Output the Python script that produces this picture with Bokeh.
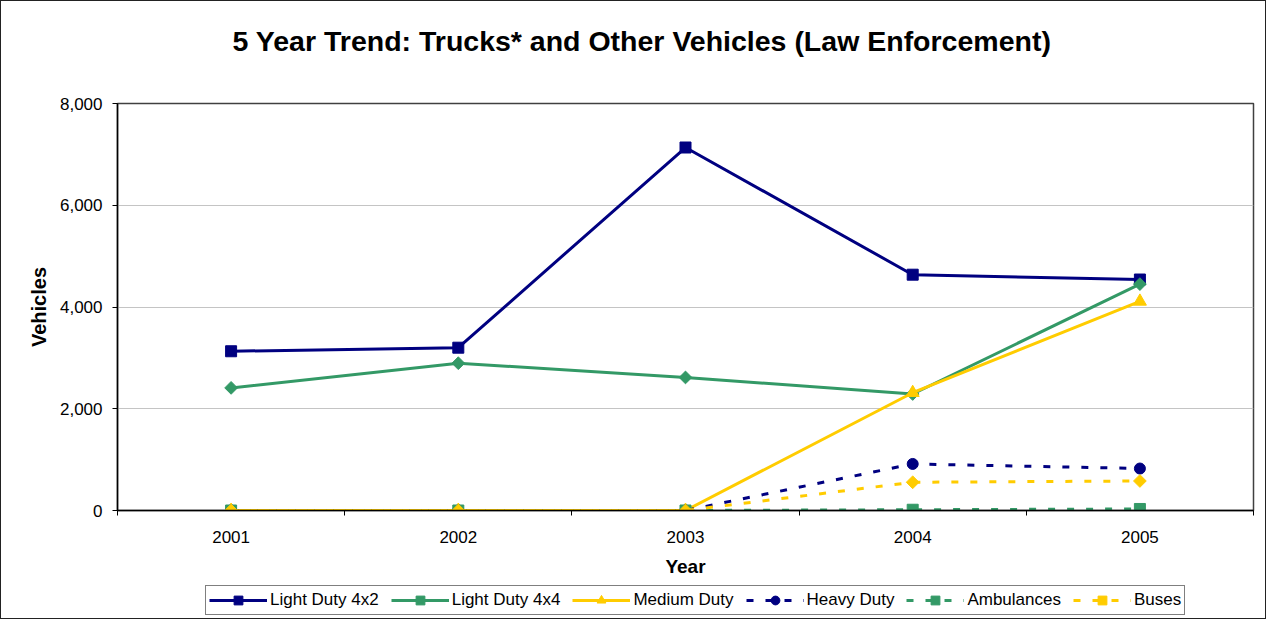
import math
from bokeh.plotting import figure
from bokeh.layouts import column
from bokeh.models import Range1d, FixedTicker, NumeralTickFormatter, Legend, LegendItem, Label
from bokeh.embed import file_html
from bokeh.resources import INLINE

years = [2001, 2002, 2003, 2004, 2005]
light_4x2 = [3130, 3200, 7135, 4635, 4540]
light_4x4 = [2410, 2895, 2615, 2290, 4450]
medium = [0, 0, 0, 2315, 4110]
heavy = [0, 0, 0, 915, 825]
ambulances = [0, 0, 0, 15, 30]
buses = [0, 0, 0, 555, 580]

TITLE = "5 Year Trend: Trucks* and Other Vehicles (Law Enforcement)"
NAVY = "#000080"
GREEN = "#339966"
YELLOW = "#FFCC00"
FONT = "Liberation Sans"
W = 1264


def blank(height):
    f = figure(width=W, height=height, output_backend="svg", toolbar_location=None,
               x_range=Range1d(0, 1), y_range=Range1d(0, 1), min_border=0)
    f.axis.visible = False
    f.grid.grid_line_color = None
    f.outline_line_color = None
    return f


# header strip with the chart title
hd = blank(74)
hd.add_layout(Label(x=0.4617, y=0.47, text=TITLE, text_align="center", text_baseline="middle",
                    text_font=FONT, text_font_size="28.5px", text_font_style="bold",
                    text_color="black"))

p = figure(width=W, height=508, output_backend="svg", toolbar_location=None,
           x_range=Range1d(2000.5, 2005.5), y_range=Range1d(0, 8000),
           min_border_left=116, min_border_right=12, min_border_top=28, min_border_bottom=73)

p.outline_line_color = "#404040"
p.outline_line_width = 1.5

p.xgrid.grid_line_color = None
p.ygrid.grid_line_color = "#c4c4c4"
p.ygrid.grid_line_width = 1

p.xaxis.ticker = FixedTicker(ticks=years, minor_ticks=[2000.5, 2001.5, 2002.5, 2003.5, 2004.5, 2005.5])
p.xaxis.major_tick_line_color = None
p.xaxis.minor_tick_in = 0
p.xaxis.minor_tick_out = 5
p.xaxis.minor_tick_line_color = "black"
p.xaxis.axis_line_color = "black"
p.xaxis.axis_line_width = 1.5
p.xaxis.major_label_text_font = FONT
p.xaxis.major_label_text_font_size = "17px"
p.xaxis.major_label_text_color = "black"
p.xaxis.major_label_standoff = 14
p.xaxis.axis_label = "Year"
p.xaxis.axis_label_text_font = FONT
p.xaxis.axis_label_text_font_size = "19px"
p.xaxis.axis_label_text_font_style = "bold"
p.xaxis.axis_label_text_color = "black"
p.xaxis.axis_label_standoff = 10

p.yaxis.ticker = FixedTicker(ticks=[0, 2000, 4000, 6000, 8000], minor_ticks=[])
p.yaxis.formatter = NumeralTickFormatter(format="0,0")
p.yaxis.major_tick_in = 0
p.yaxis.major_tick_out = 5
p.yaxis.axis_line_color = "black"
p.yaxis.axis_line_width = 1.5
p.yaxis.major_label_text_font = FONT
p.yaxis.major_label_text_font_size = "17px"
p.yaxis.major_label_text_color = "black"
p.yaxis.major_label_standoff = 10
p.yaxis.axis_label = "Vehicles"
p.yaxis.axis_label_text_font = FONT
p.yaxis.axis_label_text_font_size = "20px"
p.yaxis.axis_label_text_font_style = "bold"
p.yaxis.axis_label_text_color = "black"
p.yaxis.axis_label_standoff = 7

DIAMOND = math.pi / 4
series = [
    ("Light Duty 4x2", light_4x2, NAVY, "square", "solid", 11, 0),
    ("Light Duty 4x4", light_4x4, GREEN, "square", "solid", 9, DIAMOND),
    ("Medium Duty", medium, YELLOW, "triangle", "solid", 13, 0),
    ("Heavy Duty", heavy, NAVY, "circle", "7 12", 11, 0),
    ("Ambulances", ambulances, GREEN, "square", "7 12", 11, 0),
    ("Buses", buses, YELLOW, "square", "7 12", 9, DIAMOND),
]

# legend strip: its renderers hold the same series, outside its (blank) view
lg = blank(35)

items = []
for name, vals, color, marker, dash, size, ang in series:
    p.line(years, vals, line_color=color, line_width=3, line_dash=dash)
    p.scatter(years, vals, marker=marker, size=size, angle=ang,
              fill_color=color, line_color=color)
    kl = lg.line(years, vals, line_color=color, line_width=3, line_dash=dash)
    ks = lg.scatter(years, vals, marker=marker, size=size, angle=ang,
                    fill_color=color, line_color=color)
    items.append(LegendItem(label=name, renderers=[kl, ks]))

legend = Legend(items=items, orientation="horizontal", location=(88, 3),
                label_text_font=FONT, label_text_font_size="17px", label_text_color="black",
                border_line_color="black", border_line_width=1,
                glyph_width=58, glyph_height=22, label_standoff=3, spacing=12,
                padding=3, margin=0, label_height=20)
lg.add_layout(legend, "center")

layout = column(hd, p, lg, spacing=0)
layout.styles = {"border": "1.5px solid #222"}

open("out.html", "w").write(file_html(layout, INLINE))
